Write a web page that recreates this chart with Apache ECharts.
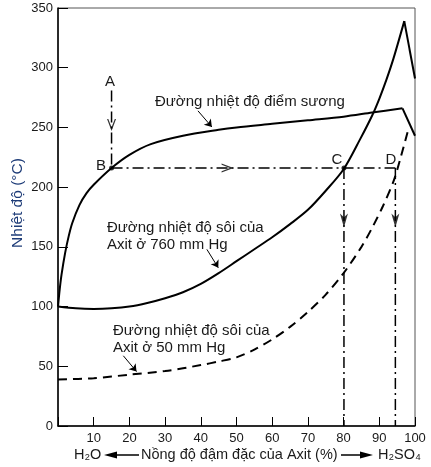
<!DOCTYPE html>
<html>
<head>
<meta charset="utf-8">
<script src="https://cdn.jsdelivr.net/npm/echarts@6/dist/echarts.min.js"></script>
<style>
html, body { margin: 0; padding: 0; background: #fff; }
#chart { width: 431px; height: 467px; }
</style>
</head>
<body>
<div id="chart"></div>
<script>
// duong nhiet do diem suong
var dewX = [0, 0.5, 1, 2, 3, 4, 6, 8, 10, 15, 20, 26, 35, 45, 50, 60, 70, 80, 88, 96.5, 100];
var dewY = [100, 115, 127, 145, 159, 170, 185, 195, 202, 216, 227, 236, 243, 248, 250, 253, 256, 259, 262.5, 266, 243];
// nhiet do soi 760 mm Hg
var bp760X = [0, 5, 10, 15, 20, 25, 30, 35, 40, 45, 50, 55, 60, 65, 70, 75, 80, 84.6, 88, 90, 92, 94, 97, 100];
var bp760Y = [100, 98.5, 98, 98.5, 100, 103, 107, 112, 119, 128, 138, 148, 158, 169, 181, 197, 215, 240, 260, 274, 290, 308, 339, 291];
// nhiet do soi 50 mm Hg
var bp50X = [0, 10, 20, 30, 40, 45, 50, 55, 60, 65, 70, 75, 80, 85, 88, 91, 94, 96, 98];
var bp50Y = [39, 40, 43, 46, 51, 54, 57.5, 64, 72.5, 83, 95.5, 110, 128, 150, 166, 184, 205, 225, 247];
// duong gach cham A-B, B-D, C, D
var pathAB = [[15, 281], [15, 216]];
var pathBD = [[15, 216], [94.5, 216]];
var pathC = [[80.1, 216], [80.1, 0]];
var pathD = [[94.5, 216], [94.5, 0]];
var chevrons = [[15, 252], [47.5, 216]];
var heads = [[80.1, 172], [94.5, 172]];
var dots = [[15, 216], [80.1, 216]];
// mui ten chu thich
var leaderDew = [[39.2, 263.9], [43.1, 250.4]];
var leader760 = [[41.7, 147.9], [44.9, 132.5]];
var leader50 = [[18.3, 58.8], [22, 45.6]];
var xTicks = [0, 100, 10];
var yTicks = [0, 350, 50];

function zip(xs, ys) {
    return xs.map(function (x, i) { return [x, ys[i]]; });
}

var font = '"Liberation Sans", Arial, sans-serif';
var ink = '#1a1a1a';

function curve(name, xs, ys, dashed) {
    var pts = zip(xs, ys);
    var out = [{
        name: name, type: 'line', data: pts.slice(0, pts.length - 1),
        smooth: 0.3, symbol: 'none',
        lineStyle: { color: '#000', width: 2, type: dashed ? [9, 6] : 'solid' }
    }];
    if (!dashed) {
        out.push({
            name: name, type: 'line', data: pts.slice(pts.length - 2), symbol: 'none',
            lineStyle: { color: '#000', width: 2 }
        });
    } else {
        out[0].data = pts;
    }
    return out;
}

function dashDot(pts) {
    return {
        type: 'line', data: pts, symbol: 'none',
        lineStyle: { color: '#000', width: 1.5, type: [11, 4, 2, 4] }
    };
}

function leader(pts) {
    return {
        type: 'line', data: [], symbol: 'none',
        markLine: {
            silent: true, symbol: ['none', 'arrow'], symbolSize: 7,
            label: { show: false },
            lineStyle: { color: '#000', width: 1, type: 'solid' },
            data: [[{ coord: pts[0] }, { coord: pts[1] }]]
        }
    };
}

var myChart = echarts.init(document.getElementById('chart'));
var series = []
    .concat(curve('dew', dewX, dewY, false))
    .concat(curve('760', bp760X, bp760Y, false))
    .concat(curve('50', bp50X, bp50Y, true))
    .concat([dashDot(pathAB), dashDot(pathBD), dashDot(pathC), dashDot(pathD)])
    .concat([leader(leaderDew), leader(leader760), leader(leader50)]);

series.push({
    type: 'scatter',
    data: chevrons.map(function (p, i) {
        return { value: p, symbolRotate: i === 0 ? 0 : 90 };
    }),
    symbol: 'path://M0,0 L5,11 L10,0 L8.6,0 L5,7.5 L1.4,0 Z',
    symbolSize: [9, 12],
    itemStyle: { color: '#000' }
});
series.push({
    type: 'scatter', data: heads,
    symbol: 'path://M0,0 L5,3.5 L10,0 L5,13 Z',
    symbolSize: [8, 14],
    itemStyle: { color: '#000' }
});
series.push({
    type: 'scatter', data: dots, symbol: 'circle', symbolSize: 5,
    itemStyle: { color: '#000' }
});

function txt(text, x, y, opts) {
    var st = {
        text: text, x: 0, y: 0, fill: ink, fontSize: 15, fontFamily: font,
        align: 'left', verticalAlign: 'middle', lineHeight: 17
    };
    for (var k in (opts || {})) st[k] = opts[k];
    return { type: 'text', x: x, y: y, style: st, silent: true };
}

var option = {
    animation: false,
    backgroundColor: '#fff',
    grid: {
        left: 58, right: 16, top: 8, bottom: 41,
        show: true, borderColor: '#555', borderWidth: 1
    },
    xAxis: {
        type: 'value', min: xTicks[0], max: xTicks[1], interval: xTicks[2],
        axisLine: { lineStyle: { color: '#000', width: 1.5 } },
        axisTick: { inside: true, length: 9, lineStyle: { color: '#000', width: 1 } },
        axisLabel: {
            color: ink, fontSize: 13, fontFamily: font, margin: 6,
            formatter: function (v) { return v === 0 ? '' : v; }
        },
        splitLine: { show: false }
    },
    yAxis: {
        type: 'value', min: yTicks[0], max: yTicks[1], interval: yTicks[2],
        axisLine: { show: true, lineStyle: { color: '#000', width: 1.5 } },
        axisTick: { show: true, inside: true, length: 10, lineStyle: { color: '#000', width: 1 } },
        axisLabel: { color: ink, fontSize: 13, fontFamily: font, margin: 5 },
        splitLine: { show: false }
    },
    graphic: [
        txt('Đường nhiệt độ điểm sương', 155, 101.5),
        txt('Đường nhiệt độ sôi của\nAxit ở 760 mm Hg', 107, 236.5),
        txt('Đường nhiệt độ sôi của\nAxit ở 50 mm Hg', 113, 339),
        txt('A', 110, 82, { align: 'center' }),
        txt('B', 101, 166, { align: 'center' }),
        txt('C', 337, 160, { align: 'center' }),
        txt('D', 391, 160, { align: 'center' }),
        {
            type: 'text', x: 18, y: 203, rotation: Math.PI / 2, silent: true,
            style: {
                text: 'Nhiệt độ (°C)', fill: '#1e3c78', fontSize: 15.5, fontFamily: font,
                align: 'center', verticalAlign: 'middle'
            }
        },
        txt('H₂O', 74, 455, { fontSize: 14.5 }),
        txt('Nồng độ đậm đặc của Axit (%)', 141, 455, { fontSize: 14.5 }),
        txt('H₂SO₄', 378, 455, { fontSize: 14.5 }),
        { type: 'line', silent: true, shape: { x1: 112, y1: 455, x2: 139, y2: 455 }, style: { stroke: '#000', lineWidth: 1.5 } },
        { type: 'polygon', silent: true, shape: { points: [[104, 455], [117, 451.5], [117, 458.5]] }, style: { fill: '#000' } },
        { type: 'line', silent: true, shape: { x1: 341, y1: 455, x2: 364, y2: 455 }, style: { stroke: '#000', lineWidth: 1.5 } },
        { type: 'polygon', silent: true, shape: { points: [[373, 455], [360, 451.5], [360, 458.5]] }, style: { fill: '#000' } }
    ],
    series: series
};
myChart.setOption(option);
</script>
</body>
</html>
